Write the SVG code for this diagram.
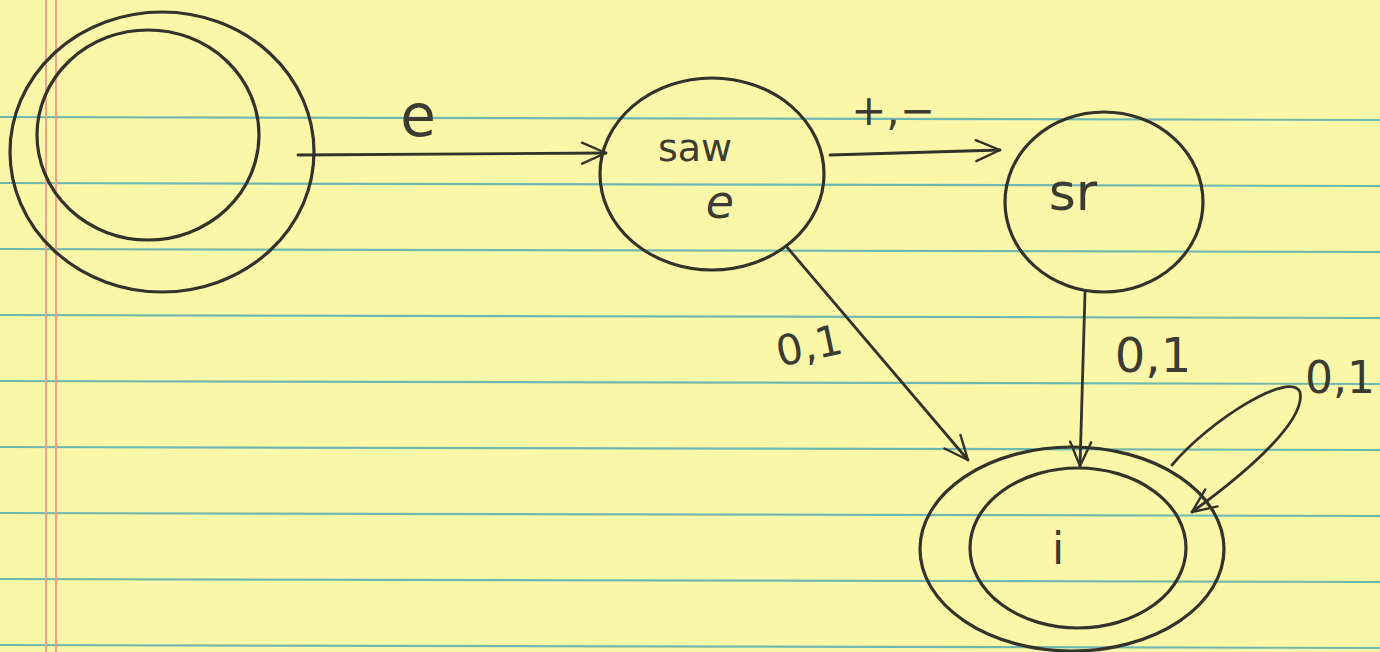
<svg xmlns="http://www.w3.org/2000/svg" width="1380" height="652" viewBox="0 0 1380 652">
<defs>
<marker id="ah" viewBox="0 0 20 20" refX="18" refY="10" markerWidth="30" markerHeight="30" markerUnits="userSpaceOnUse" orient="auto">
<path d="M2,3 L18,10 L2,17" fill="none" stroke="#33322b" stroke-width="1.6" stroke-linecap="round" stroke-linejoin="round"/>
</marker>
<style>
.rule{stroke:#6fb8b0;stroke-width:2.2}
.margin{stroke:#f0a090;stroke-width:2}
.st{fill:none;stroke:#33322b;stroke-width:3.2}
.ed{fill:none;stroke:#33322b;stroke-width:2.8;stroke-linecap:round}
.lb{font-family:"DejaVu Sans","Liberation Sans",sans-serif;fill:#3c3b33}
</style>
</defs>
<rect x="0" y="0" width="1380" height="652" fill="#fbf7a9"/>
<g id="paper">
<line class="rule" x1="0" y1="117" x2="1380" y2="120"/>
<line class="rule" x1="0" y1="183" x2="1380" y2="186"/>
<line class="rule" x1="0" y1="249" x2="1380" y2="252"/>
<line class="rule" x1="0" y1="315" x2="1380" y2="318"/>
<line class="rule" x1="0" y1="381" x2="1380" y2="384"/>
<line class="rule" x1="0" y1="447" x2="1380" y2="450"/>
<line class="rule" x1="0" y1="513" x2="1380" y2="516"/>
<line class="rule" x1="0" y1="579" x2="1380" y2="582"/>
<line class="rule" x1="0" y1="645" x2="1380" y2="648"/>
<line class="margin" x1="46" y1="0" x2="46" y2="652"/>
<line class="margin" x1="56" y1="0" x2="56" y2="652"/>
</g>
<g id="connectors">
<path class="ed" d="M298,155 L606,153" marker-end="url(#ah)"/>
<path class="ed" d="M830,155 L1000,150" marker-end="url(#ah)"/>
<path class="ed" d="M786,246 L968,460" marker-end="url(#ah)"/>
<path class="ed" d="M1085,293 L1080,466" marker-end="url(#ah)"/>
<path class="ed" d="M1172,465 C1210,420 1290,370 1300,392 C1306,420 1250,470 1192,512" marker-end="url(#ah)"/>
</g>
<g id="start">
<ellipse class="st" cx="162" cy="152" rx="152" ry="140"/>
<ellipse class="st" cx="148" cy="135" rx="111" ry="105"/>
</g>
<g id="saw">
<ellipse class="st" cx="712" cy="174" rx="112" ry="96"/>
<text class="lb" x="695" y="161" font-size="38" text-anchor="middle">saw</text>
<text class="lb" x="720" y="218" font-size="46" text-anchor="middle" font-style="italic">e</text>
</g>
<g id="sr">
<ellipse class="st" cx="1104" cy="202" rx="99" ry="90"/>
<text class="lb" x="1073" y="210" font-size="52" text-anchor="middle">sr</text>
</g>
<g id="i">
<ellipse class="st" cx="1072" cy="549" rx="152" ry="102"/>
<ellipse class="st" cx="1078" cy="548" rx="108" ry="80"/>
<text class="lb" x="1058" y="564" font-size="44" text-anchor="middle">i</text>
</g>
<g id="labels">
<text class="lb" x="418" y="136" font-size="58" text-anchor="middle">e</text>
<text class="lb" x="893" y="125" font-size="42" text-anchor="middle">+,−</text>
<text class="lb" x="810" y="360" font-size="42" text-anchor="middle" transform="rotate(-12 810 350)">0,1</text>
<text class="lb" x="1153" y="372" font-size="48" text-anchor="middle">0,1</text>
<text class="lb" x="1340" y="393" font-size="44" text-anchor="middle">0,1</text>
</g>
</svg>
